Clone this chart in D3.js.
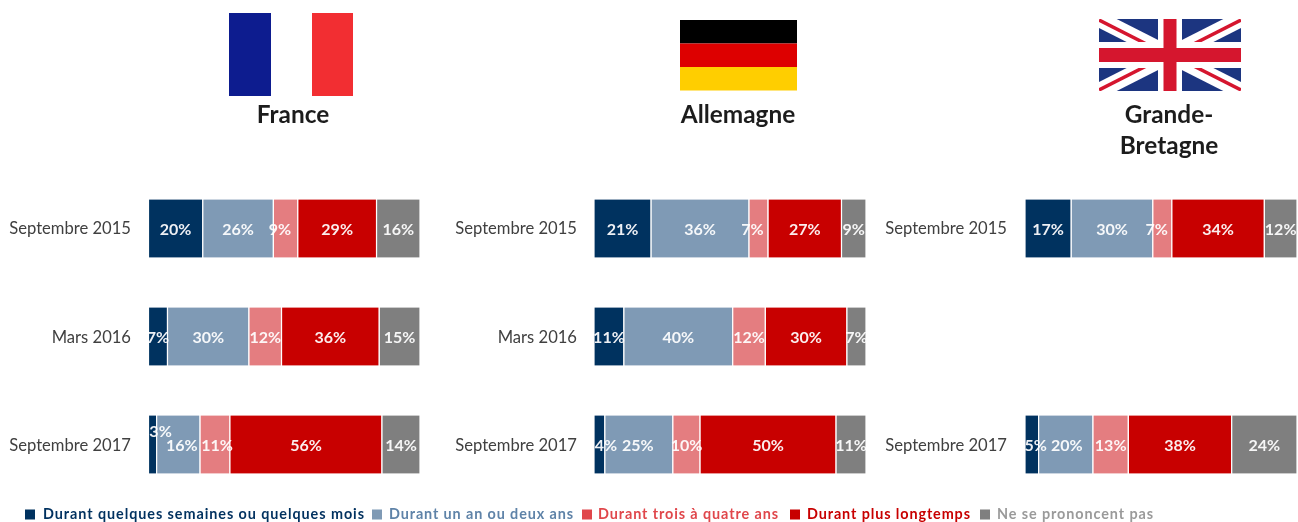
<!DOCTYPE html>
<html lang="fr">
<head>
<meta charset="utf-8">
<script src="https://cdn.jsdelivr.net/npm/d3@7/dist/d3.min.js"></script>
<style>
html,body{margin:0;padding:0;background:#fff;}
svg{display:block;font-family:Lato,"Open Sans",sans-serif;}
</style>
</head>
<body>
<svg id="chart" width="1298" height="522"></svg>
<script>
// ---- data ----
const periods = ["Septembre 2015", "Mars 2016", "Septembre 2017"];
const seriesNames = ["Durant quelques semaines ou quelques mois", "Durant un an ou deux ans", "Durant trois à quatre ans", "Durant plus longtemps", "Ne se prononcent pas"];
const seriesColors = ["#00305f", "#7f9ab5", "#e47d80", "#c80000", "#7f7f7f"];
const franceValues = [[20, 26, 9, 29, 16], [7, 30, 12, 36, 15], [3, 16, 11, 56, 14]];
const germanyValues = [[21, 36, 7, 27, 9], [11, 40, 12, 30, 7], [4, 25, 10, 50, 11]];
const britainValues = [[17, 30, 7, 34, 12], null, [5, 20, 13, 38, 24]];

// ---- layout ----
const svg = d3.select("#chart");
const defs = svg.append("defs");
defs.append("filter").attr("id", "soft").attr("x", "-5%").attr("y", "-5%").attr("width", "110%").attr("height", "110%")
  .append("feGaussianBlur").attr("stdDeviation", 0.65);
const root = svg.append("g").attr("filter", "url(#soft)");

const bandY = d3.scalePoint().domain(periods).range([199, 415]);
const barH = 59;

const panels = [
  {name: ["France"], values: franceValues, x0: 148.5, x1: 420, labelX: 131, titleX: 293, nudges: {"0-2": [-5.6, 0], "2-0": [8, -14], "2-1": [3.5, 0], "2-2": [2, 0]}},
  {name: ["Allemagne"], values: germanyValues, x0: 594, x1: 866, labelX: 577, titleX: 738, nudges: {"0-2": [-6, 0], "2-0": [6.5, 0], "2-1": [-1, 0]}},
  {name: ["Grande-", "Bretagne"], values: britainValues, x0: 1025, x1: 1297, labelX: 1007, titleX: 1169, nudges: {"0-2": [-5.6, 0], "2-0": [4, 0], "2-1": [1, 0]}}
];

panels.forEach(p => {
  const x = d3.scaleLinear().domain([0, 100]).range([p.x0, p.x1]);
  const g = root.append("g");
  const present = periods.filter((_, i) => p.values[i]);

  // period labels through a D3 axis
  const axis = d3.axisLeft(d3.scalePoint().domain(periods).range([bandY(periods[0]) + barH / 2, bandY(periods[2]) + barH / 2 + 1]))
    .tickValues(present).tickSize(0).tickPadding(0);
  const ax = g.append("g").attr("transform", `translate(${p.labelX},0)`).call(axis);
  ax.select(".domain").remove();
  ax.selectAll("text").attr("font-family", "Lato").attr("font-size", 16.6).attr("fill", "#404040");

  present.forEach(period => {
    const r = periods.indexOf(period);
    let cum = 0;
    const stack = p.values[r].map((v, s) => {
      const d = {v, s, a: cum, b: cum + v};
      cum += v;
      return d;
    });
    const row = g.append("g").attr("transform", `translate(0,${bandY(period)})`);
    row.selectAll("rect").data(stack).join("rect")
      .attr("x", d => x(d.a))
      .attr("y", 0)
      .attr("width", d => x(d.b) - x(d.a))
      .attr("height", barH)
      .attr("fill", d => seriesColors[d.s])
      .attr("stroke", "#fff").attr("stroke-width", 1.2);
    row.selectAll("text").data(stack).join("text")
      .attr("x", d => (x(d.a) + x(d.b)) / 2 + ((p.nudges[r + "-" + d.s] || [0, 0])[0]))
      .attr("y", d => barH / 2 + 6 + ((p.nudges[r + "-" + d.s] || [0, 0])[1]))
      .attr("text-anchor", "middle")
      .attr("font-size", 16).attr("font-weight", 700)
      .attr("fill", "#fff").attr("fill-opacity", 0.93)
      .text(d => d.v + "%");
  });

  // country title
  g.append("g").selectAll("text").data(p.name).join("text")
    .attr("x", p.titleX)
    .attr("y", (d, i) => 123 + i * 31)
    .attr("text-anchor", "middle")
    .attr("font-size", 24.4).attr("font-weight", 700).attr("fill", "#1f1f1f")
    .text(d => d);
});

// ---- flags ----
const fr = root.append("g");
[["#0f1f8f", 229, 42], ["#ffffff", 271, 41], ["#f22f33", 312, 41]].forEach(([c, fx, w]) =>
  fr.append("rect").attr("x", fx).attr("y", 13).attr("width", w).attr("height", 83).attr("fill", c));

const de = root.append("g");
[["#000000", 20], ["#dd0000", 43.5], ["#ffce00", 67]].forEach(([c, fy]) =>
  de.append("rect").attr("x", 680).attr("y", fy).attr("width", 117).attr("height", 23.5).attr("fill", c));

const ukX = 1099, ukY = 19, ukW = 142, ukH = 72;
defs.append("clipPath").attr("id", "ukclip").append("rect").attr("x", ukX).attr("y", ukY).attr("width", ukW).attr("height", ukH);
const uk = root.append("g").attr("clip-path", "url(#ukclip)");
uk.append("rect").attr("x", ukX).attr("y", ukY).attr("width", ukW).attr("height", ukH).attr("fill", "#1f3580");
const diag = (x1, y1, x2, y2, c, w) => uk.append("line").attr("x1", x1).attr("y1", y1).attr("x2", x2).attr("y2", y2).attr("stroke", c).attr("stroke-width", w);
diag(ukX, ukY, ukX + ukW, ukY + ukH, "#fff", 16);
diag(ukX, ukY + ukH, ukX + ukW, ukY, "#fff", 16);
// red diagonals, offset from the centre line as on the real flag
diag(ukX, ukY + 1, ukX + ukW / 2, ukY + ukH / 2 + 1, "#d5122f", 3.5);
diag(ukX + ukW / 2, ukY + ukH / 2 - 1, ukX + ukW, ukY + ukH - 1, "#d5122f", 3.5);
diag(ukX, ukY + ukH - 1, ukX + ukW / 2, ukY + ukH / 2 - 1, "#d5122f", 3.5);
diag(ukX + ukW / 2, ukY + ukH / 2 + 1, ukX + ukW, ukY + 1, "#d5122f", 3.5);
uk.append("rect").attr("x", ukX + ukW / 2 - 12).attr("y", ukY).attr("width", 24).attr("height", ukH).attr("fill", "#fff");
uk.append("rect").attr("x", ukX).attr("y", ukY + ukH / 2 - 13).attr("width", ukW).attr("height", 26).attr("fill", "#fff");
uk.append("rect").attr("x", ukX + ukW / 2 - 6.5).attr("y", ukY).attr("width", 13).attr("height", ukH).attr("fill", "#d5122f");
uk.append("rect").attr("x", ukX).attr("y", ukY + ukH / 2 - 7).attr("width", ukW).attr("height", 14).attr("fill", "#d5122f");

// ---- legend ----
const legendSquareX = [25, 372, 582, 790, 980];
const legendTextX = [43, 389, 598, 807, 997];
const legendTextW = [321, 184, 180, 163, 156];
const legendTextColors = ["#00305f", "#5f83a8", "#e0474c", "#c80000", "#9a9a9a"];
const legend = root.append("g");
seriesNames.forEach((name, i) => {
  legend.append("rect").attr("x", legendSquareX[i]).attr("y", 509.5).attr("width", 10).attr("height", 10).attr("fill", seriesColors[i] === "#e47d80" ? "#e0474c" : seriesColors[i]);
  legend.append("text").attr("x", legendTextX[i]).attr("y", 519)
    .attr("font-size", 14.4).attr("font-weight", 700)
    .attr("fill", legendTextColors[i])
    .attr("textLength", legendTextW[i]).attr("lengthAdjust", "spacing")
    .text(name);
});
</script>
</body>
</html>
